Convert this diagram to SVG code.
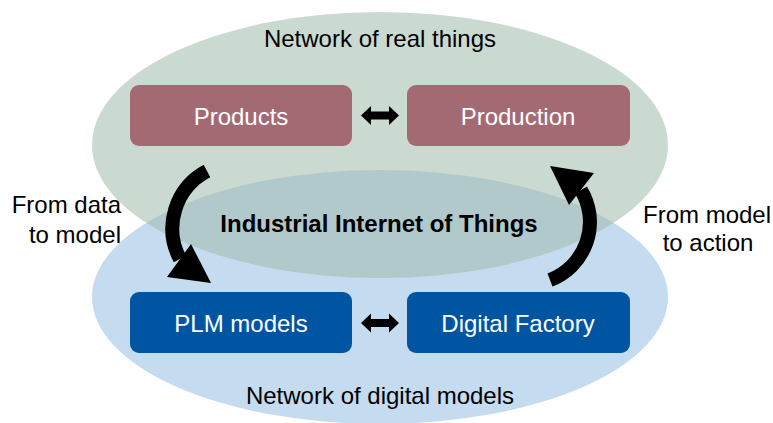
<svg xmlns="http://www.w3.org/2000/svg" width="773" height="423" viewBox="0 0 773 423">
<style>
text{font-family:"Liberation Sans",Arial,sans-serif;font-size:24px;fill:#000}
.lbl{fill:#fff;text-anchor:middle}
.ctr{text-anchor:middle}
.red{fill:#A46A74}
.blu{fill:#0055A2}
.curve{fill:none;stroke:#000;stroke-width:14}
</style>
<defs>
<clipPath id="clipBottom"><ellipse cx="380" cy="297" rx="288" ry="127"/></clipPath>
</defs>
<rect width="773" height="423" fill="#fff"/>
<g id="network-digital">
<ellipse cx="380" cy="297" rx="288" ry="127" fill="#C5DBF0"/>
<text class="ctr" x="380" y="404">Network of digital models</text>
</g>
<g id="network-real">
<ellipse cx="380" cy="145" rx="288" ry="133" fill="#CBDAD1"/>
<text class="ctr" x="380" y="47">Network of real things</text>
</g>
<g id="iiot">
<ellipse cx="380" cy="145" rx="288" ry="133" fill="#B1C9CB" clip-path="url(#clipBottom)"/>
<text class="ctr" x="379" y="232" font-weight="bold">Industrial Internet of Things</text>
</g>
<g id="products"><rect class="red" x="130" y="85" width="222" height="61" rx="9"/><text class="lbl" x="241" y="125">Products</text></g>
<g id="production"><rect class="red" x="407" y="85" width="223" height="61" rx="9"/><text class="lbl" x="518" y="125">Production</text></g>
<g id="plm"><rect class="blu" x="130" y="292" width="222" height="61" rx="9"/><text class="lbl" x="241" y="332">PLM models</text></g>
<g id="digital-factory"><rect class="blu" x="407" y="292" width="223" height="61" rx="9"/><text class="lbl" x="518" y="332">Digital Factory</text></g>
<g id="connectors">
<polygon points="361,115.5 371,106 371,111.5 389,111.5 389,106 399,115.5 389,125 389,119.5 371,119.5 371,125"/>
<polygon points="361,323 371,313.5 371,319 389,319 389,313.5 399,323 389,332.5 389,327 371,327 371,332.5"/>
<path class="curve" d="M207,171 A65,65 0 0 0 180,259"/>
<polygon points="167,277 191,244 211,283"/>
<path class="curve" d="M550,280 A62,62 0 0 0 581,190"/>
<polygon points="550,166 594,173 569,205"/>
<text x="121" y="213" text-anchor="end">From data</text>
<text x="121" y="243" text-anchor="end">to model</text>
<text class="ctr" x="707" y="223">From model</text>
<text class="ctr" x="708" y="251">to action</text>
</g>
</svg>
